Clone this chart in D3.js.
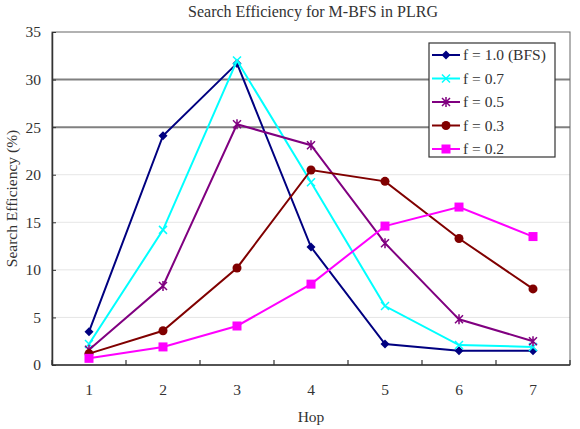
<!DOCTYPE html>
<html>
<head>
<meta charset="utf-8">
<script src="https://cdn.jsdelivr.net/npm/d3@7"></script>
<style>
  body { margin: 0; background: #fff; }
  text { font-family: "Liberation Serif", "DejaVu Serif", serif; }
</style>
</head>
<body>
<div id="chart"></div>
<script>
const hops = [1, 2, 3, 4, 5, 6, 7];
const yTicks = [0, 5, 10, 15, 20, 25, 30, 35];
const seriesNames = ['f = 1.0 (BFS)', 'f = 0.7', 'f = 0.5', 'f = 0.3', 'f = 0.2'];
const bfs10 = [3.5, 24.1, 31.7, 12.4, 2.2, 1.5, 1.5];
const f07 = [2.2, 14.2, 32.0, 19.2, 6.2, 2.1, 1.9];
const f05 = [1.6, 8.3, 25.3, 23.1, 12.8, 4.8, 2.5];
const f03 = [1.2, 3.6, 10.2, 20.5, 19.3, 13.3, 8.0];
const f02 = [0.7, 1.9, 4.1, 8.5, 14.6, 16.6, 13.5];

const series = [
  { name: seriesNames[0], values: bfs10, color: '#000080', marker: 'diamond' },
  { name: seriesNames[1], values: f07, color: '#00ffff', marker: 'x' },
  { name: seriesNames[2], values: f05, color: '#800080', marker: 'star' },
  { name: seriesNames[3], values: f03, color: '#800000', marker: 'circle' },
  { name: seriesNames[4], values: f02, color: '#ff00ff', marker: 'square' }
];

const width = 580, height = 429;
const margin = { top: 32, right: 10, bottom: 64, left: 52 };
const innerW = width - margin.left - margin.right;
const innerH = height - margin.top - margin.bottom;
const fs = 15.5;

const svg = d3.select('#chart').append('svg')
  .attr('width', width)
  .attr('height', height);

const g = svg.append('g')
  .attr('transform', 'translate(' + margin.left + ',' + margin.top + ')');

const x = d3.scaleBand().domain(hops).range([0, innerW]);
const y = d3.scaleLinear().domain([0, 35]).range([innerH, 0]);

// gridlines
g.selectAll('line.grid')
  .data(yTicks.filter(d => d > 0 && d < 35))
  .enter().append('line')
  .attr('class', 'grid')
  .attr('x1', 0).attr('x2', innerW)
  .attr('y1', d => y(d)).attr('y2', d => y(d))
  .attr('stroke', d => (d === 25 || d === 30) ? '#808080' : '#e6e6e6')
  .attr('stroke-width', d => (d === 25 || d === 30) ? 2 : 1);

// plot frame
g.append('rect')
  .attr('width', innerW).attr('height', innerH)
  .attr('fill', 'none')
  .attr('stroke', '#666')
  .attr('stroke-width', 1);

// y axis
const yAxis = d3.axisLeft(y).tickValues(yTicks).tickSize(0).tickPadding(11);
const gy = g.append('g').call(yAxis);
gy.select('.domain').attr('stroke', '#333').attr('stroke-width', 1.5);
gy.selectAll('.tick line').attr('stroke', '#333').attr('x2', 4);
gy.selectAll('text').attr('font-size', fs).attr('fill', '#333').attr('font-family', '"Liberation Serif", serif');

// x axis with inside ticks at category boundaries
const gx = g.append('g').attr('transform', 'translate(0,' + innerH + ')');
gx.append('line').attr('x1', 0).attr('x2', innerW).attr('stroke', '#333').attr('stroke-width', 1.5);
gx.selectAll('line.tk')
  .data(d3.range(hops.length + 1))
  .enter().append('line')
  .attr('class', 'tk')
  .attr('x1', i => i * x.step()).attr('x2', i => i * x.step())
  .attr('y1', 0).attr('y2', -5)
  .attr('stroke', '#333')
  .attr('stroke-width', 1.2);
gx.selectAll('text')
  .data(hops)
  .enter().append('text')
  .attr('x', d => x(d) + x.bandwidth() / 2)
  .attr('y', 30)
  .attr('text-anchor', 'middle')
  .attr('font-size', fs)
  .attr('fill', '#333')
  .text(d => d);

const cx = d => x(d) + x.bandwidth() / 2;

const line = d3.line()
  .x((d, i) => cx(hops[i]))
  .y(d => y(d));

function drawMarker(sel, type, color) {
  if (type === 'diamond') {
    sel.append('path').attr('d', 'M0,-4.5L4.5,0L0,4.5L-4.5,0Z').attr('fill', color);
  } else if (type === 'x') {
    sel.append('path').attr('d', 'M-4,-4L4,4M-4,4L4,-4').attr('stroke', color).attr('stroke-width', 1.5);
  } else if (type === 'star') {
    sel.append('path').attr('d', 'M-4,-4L4,4M-4,4L4,-4M0,-5L0,5').attr('stroke', color).attr('stroke-width', 1.5);
  } else if (type === 'circle') {
    sel.append('circle').attr('r', 4.5).attr('fill', color);
  } else if (type === 'square') {
    sel.append('rect').attr('x', -4.5).attr('y', -4.5).attr('width', 9).attr('height', 9).attr('fill', color);
  }
}

series.forEach(s => {
  g.append('path')
    .datum(s.values)
    .attr('fill', 'none')
    .attr('stroke', s.color)
    .attr('stroke-width', 2)
    .attr('d', line);
  s.values.forEach((v, i) => {
    const m = g.append('g').attr('transform', 'translate(' + cx(hops[i]) + ',' + y(v) + ')');
    drawMarker(m, s.marker, s.color);
  });
});

// legend
const legend = svg.append('g').attr('transform', 'translate(429,43)');
legend.append('rect')
  .attr('width', 126).attr('height', 114)
  .attr('fill', '#fff')
  .attr('stroke', '#333')
  .attr('stroke-width', 1.2);
series.forEach((s, i) => {
  const row = legend.append('g').attr('transform', 'translate(0,' + (12 + i * 23.5) + ')');
  row.append('line').attr('x1', 3).attr('x2', 31).attr('stroke', s.color).attr('stroke-width', 2);
  const m = row.append('g').attr('transform', 'translate(17,0)');
  drawMarker(m, s.marker, s.color);
  row.append('text').attr('x', 34).attr('y', 5).attr('font-size', fs).attr('fill', '#333').text(s.name);
});

// titles
svg.append('text')
  .attr('x', 313).attr('y', 17)
  .attr('text-anchor', 'middle')
  .attr('font-size', 16)
  .attr('fill', '#333')
  .text('Search Efficiency for M-BFS in PLRG');

svg.append('text')
  .attr('x', 311).attr('y', 422)
  .attr('text-anchor', 'middle')
  .attr('font-size', fs)
  .attr('fill', '#333')
  .text('Hop');

svg.append('text')
  .attr('transform', 'translate(17,' + (margin.top + innerH / 2) + ') rotate(-90)')
  .attr('text-anchor', 'middle')
  .attr('font-size', fs)
  .attr('fill', '#333')
  .text('Search Efficiency (%)');
</script>
</body>
</html>
